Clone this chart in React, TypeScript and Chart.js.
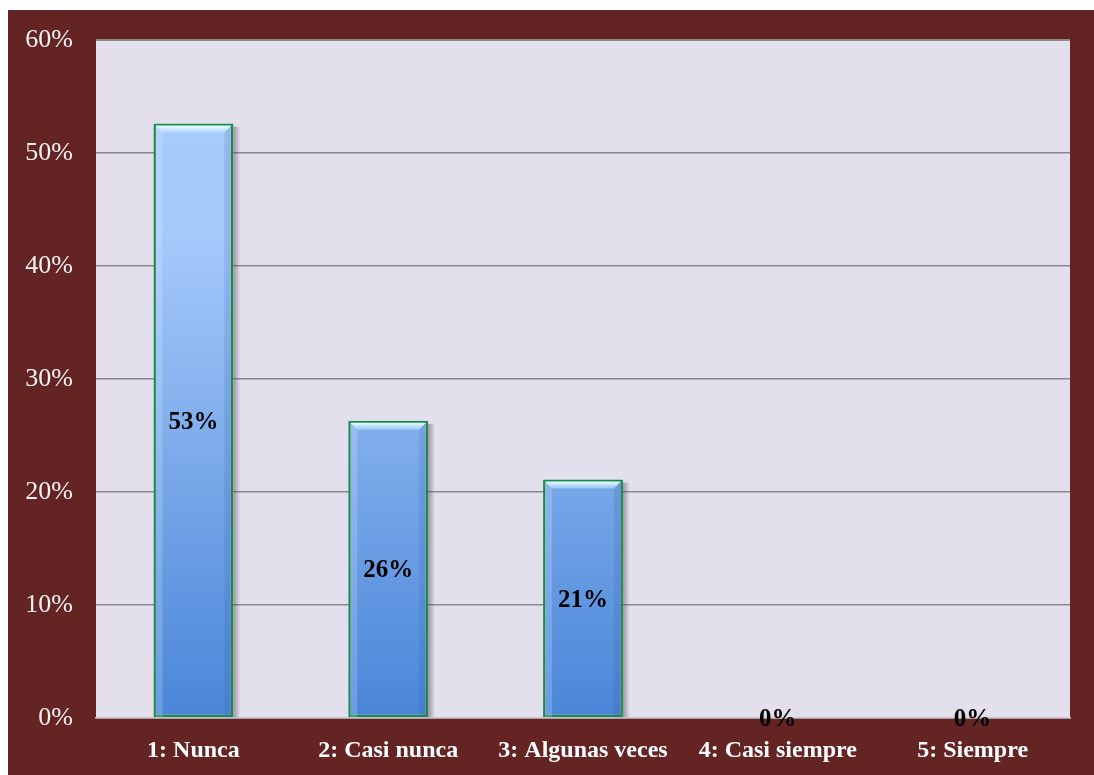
import React, { useEffect, useRef } from "react";
import { Chart, registerables } from "chart.js";

Chart.register(...registerables);

const categories = ["1: Nunca", "2: Casi nunca", "3: Algunas veces", "4: Casi siempre", "5: Siempre"];
const values = [0.526, 0.263, 0.211, 0, 0];
const yTicks = [0, 0.1, 0.2, 0.3, 0.4, 0.5, 0.6];

const MAROON = "#632423";
const PLOT_BG = "#e4dfec";
const FONT = "'Liberation Serif', 'DejaVu Serif', serif";

const bgPlugin = {
  id: "bgPlugin",
  beforeDraw(chart: any) {
    const { ctx, chartArea } = chart;
    ctx.save();
    ctx.fillStyle = MAROON;
    ctx.fillRect(0, 0, chart.width, chart.height);
    ctx.fillStyle = PLOT_BG;
    ctx.fillRect(chartArea.left, chartArea.top, chartArea.right - chartArea.left, chartArea.bottom - chartArea.top);
    ctx.restore();
  },
};

const shadowPlugin = {
  id: "shadowPlugin",
  beforeDatasetsDraw(chart: any) {
    const { ctx } = chart;
    const meta = chart.getDatasetMeta(0);
    ctx.save();
    meta.data.forEach((bar: any) => {
      const h = bar.base - bar.y;
      if (h <= 0) return;
      const left = bar.x - bar.width / 2;
      const g = ctx.createLinearGradient(left + bar.width, 0, left + bar.width + 7, 0);
      g.addColorStop(0, "rgba(60,60,70,0.45)");
      g.addColorStop(1, "rgba(60,60,70,0)");
      ctx.fillStyle = g;
      ctx.fillRect(left + bar.width, bar.y + 3, 7, h - 3);
    });
    ctx.restore();
  },
  afterDatasetsDraw(chart: any) {
    const { ctx } = chart;
    const meta = chart.getDatasetMeta(0);
    ctx.save();
    meta.data.forEach((bar: any) => {
      const h = bar.base - bar.y;
      if (h <= 0) return;
      const l = bar.x - bar.width / 2 + 2;
      const r = bar.x + bar.width / 2 - 2;
      const t = bar.y + 2;
      const bev = 7;
      const g = ctx.createLinearGradient(0, t, 0, t + bev);
      g.addColorStop(0, "rgba(235,255,255,1)");
      g.addColorStop(1, "rgba(200,235,255,0.4)");
      ctx.fillStyle = g;
      ctx.beginPath();
      ctx.moveTo(l, t);
      ctx.lineTo(r, t);
      ctx.lineTo(r - bev, t + bev);
      ctx.lineTo(l + bev, t + bev);
      ctx.closePath();
      ctx.fill();
      ctx.fillStyle = "rgba(255,255,255,0.18)";
      ctx.beginPath();
      ctx.moveTo(l, t);
      ctx.lineTo(l + bev, t + bev);
      ctx.lineTo(l + bev, bar.base);
      ctx.lineTo(l, bar.base);
      ctx.closePath();
      ctx.fill();
      ctx.fillStyle = "rgba(40,80,140,0.15)";
      ctx.beginPath();
      ctx.moveTo(r, t);
      ctx.lineTo(r - bev, t + bev);
      ctx.lineTo(r - bev, bar.base);
      ctx.lineTo(r, bar.base);
      ctx.closePath();
      ctx.fill();
    });
    ctx.restore();
  },
};

const labelPlugin = {
  id: "labelPlugin",
  afterDraw(chart: any) {
    const { ctx } = chart;
    const meta = chart.getDatasetMeta(0);
    ctx.save();
    ctx.font = `bold 25px ${FONT}`;
    ctx.fillStyle = "#000000";
    ctx.textAlign = "center";
    ctx.textBaseline = "middle";
    meta.data.forEach((bar: any, i: number) => {
      const v = values[i];
      const y = (bar.y + bar.base) / 2 + 2;
      ctx.fillText(Math.round(v * 100) + "%", bar.x, y);
    });
    ctx.restore();
  },
};

export default function App() {
  const ref = useRef<HTMLCanvasElement | null>(null);
  useEffect(() => {
    if (!ref.current) return;
    const ctx = ref.current.getContext("2d")!;
    const chart = new Chart(ctx, {
      type: "bar",
      data: {
        labels: categories,
        datasets: [
          {
            data: values,
            backgroundColor: (c: any) => {
              const { chartArea } = c.chart;
              if (!chartArea) return "#7aaaf0";
              const g = c.chart.ctx.createLinearGradient(0, chartArea.top, 0, chartArea.bottom);
              g.addColorStop(0, "#a9cdfc");
              g.addColorStop(0.3, "#a4c8fa");
              g.addColorStop(1, "#4a86d8");
              return g;
            },
            borderColor: "#1c8a4c",
            borderWidth: 2.5,
            borderSkipped: false,
            barPercentage: 0.82,
            categoryPercentage: 0.5,
          },
        ],
      },
      options: {
        animation: false,
        responsive: false,
        maintainAspectRatio: false,
        layout: { padding: { left: 0, top: 30, right: 24, bottom: 0 } },
        plugins: { legend: { display: false }, tooltip: { enabled: false } },
        scales: {
          x: {
            grid: { display: false, drawTicks: false },
            border: { display: true, color: "#c8c8d0", width: 1.5 },
            ticks: {
              color: "#ffffff",
              font: { family: FONT, size: 24, weight: "bold" },
              padding: 18,
              maxRotation: 0,
              autoSkip: false,
            },
            afterFit(scale: any) {
              scale.height = 57;
              scale.paddingLeft = 0;
              scale.paddingRight = 0;
            },
          },
          y: {
            min: 0,
            max: 0.6,
            afterBuildTicks(scale: any) {
              scale.ticks = yTicks.map((v) => ({ value: v }));
            },
            grid: {
              drawTicks: false,
              color: (c: any) => (c.tick && c.tick.value === 0 ? "#c8c8d0" : "#8a8a8a"),
              lineWidth: (c: any) => (c.tick && c.tick.value === 0.6 ? 2 : 1.5),
            },
            border: { display: false },
            ticks: {
              color: "#f2f2f2",
              font: { family: FONT, size: 26 },
              padding: 23,
              callback: (v: any) => Math.round(Number(v) * 100) + "%",
            },
            afterFit(scale: any) {
              scale.width = 88;
              scale.paddingTop = 0;
              scale.paddingBottom = 0;
            },
          },
        },
      },
      plugins: [bgPlugin, shadowPlugin, labelPlugin],
    });
    return () => chart.destroy();
  }, []);
  return (
    <canvas
      ref={ref}
      width={1086}
      height={765}
      style={{ position: "fixed", left: 8, top: 10, width: 1086, height: 765, display: "block" }}
    />
  );
}
